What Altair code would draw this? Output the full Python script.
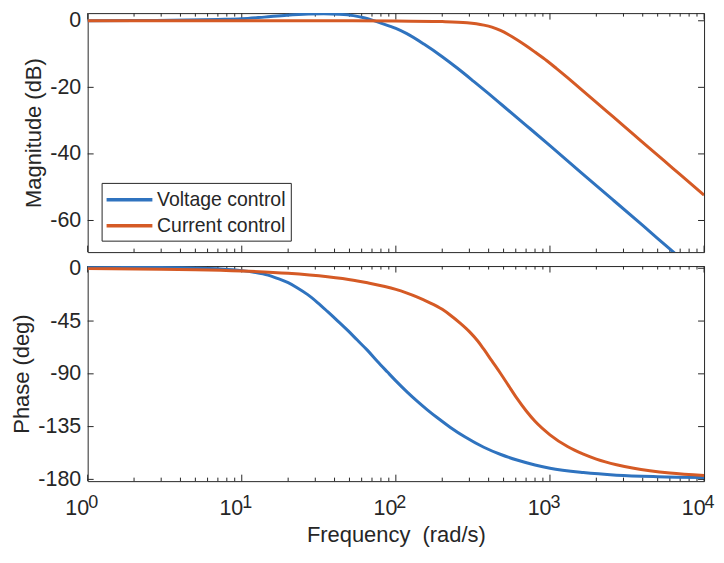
import altair as alt
import pandas as pd

series = ["Voltage control", "Current control"]
colors = ["#2F73BF", "#D55A25"]

# Magnitude (dB)
freq_v_mag = [1, 2, 4.4, 7, 10, 14, 19.6, 27, 34, 43, 53, 62, 71, 80, 100, 117, 152, 200, 250,
              320, 400, 489, 700, 1000, 1600, 2577, 4000, 6150, 10000]
mag_v = [0.0, 0.05, 0.2, 0.4, 0.6, 1.1, 1.65, 2.0, 2.1, 1.95, 1.55, 0.9, 0.1, -0.7, -2.3, -3.8,
         -7.0, -10.8, -14.2, -18.2, -21.9, -25.3, -31.4, -37.5, -45.7, -53.9, -61.5, -69.0, -77.4]

freq_c_mag = [1, 10, 50, 100, 200, 290, 372, 420, 477, 540, 611, 700, 800, 955, 1100, 1300,
              1567, 2000, 2577, 3500, 4230, 5500, 6950, 10000]
mag_c = [0.0, 0.0, 0.0, -0.05, -0.25, -0.6, -1.3, -1.9, -2.9, -4.2, -5.7, -7.5, -9.4, -12.0,
         -14.3, -17.1, -20.3, -24.5, -28.9, -34.2, -37.5, -42.0, -46.1, -52.4]

# Phase (deg)
freq_v_ph = [1, 2, 4, 7, 10, 12, 14.8, 17, 20, 23, 26.8, 31, 36.1, 42, 48.7, 56, 65.5, 76, 88.2,
             100, 119, 138, 160, 186, 226, 280, 372, 480, 611, 800, 1000, 1648, 2704, 5000, 10000]
ph_v = [0.5, 0.7, 0.5, -0.5, -2.0, -3.4, -5.8, -8.6, -12.3, -16.8, -22.5, -29.2, -37.0, -45.0,
        -53.0, -61.0, -70.0, -79.5, -88.5, -96.0, -105.8, -113.5, -120.7, -127.5, -135.7, -143.7,
        -152.6, -158.8, -163.5, -167.7, -170.5, -174.2, -176.4, -177.7, -178.4]

freq_c_ph = [1, 3, 5, 10, 20, 36, 53, 65.5, 100, 117, 138, 160, 200, 226, 260, 300, 340, 372,
             420, 477, 540, 611, 700, 800, 1000, 1300, 1648, 2000, 2704, 3500, 4446, 6000, 10000]
ph_c = [-0.3, -0.8, -1.2, -2.3, -4.3, -7.3, -10.2, -12.4, -18.0, -21.0, -24.6, -28.4, -35.0,
        -40.0, -46.5, -54.0, -62.0, -69.0, -79.0, -89.5, -100.3, -111.0, -121.5, -130.5, -142.0,
        -152.0, -158.5, -162.7, -167.5, -170.5, -172.6, -174.6, -176.6]

x_major = [1, 10, 100, 1000, 10000]
x_exp = ["0", "1", "2", "3", "4"]
x_minor = [m * d for d in [1, 10, 100, 1000] for m in range(2, 10)]
mag_ticks = [0, -20, -40, -60]
ph_ticks = [0, -45, -90, -135, -180]

W = 619
H_MAG = 240
H_PH = 216
INK = "#262626"
FONT = "Liberation Sans"

xscale = alt.Scale(type="log", domain=[1, 10000], nice=False)
mag_scale = alt.Scale(domain=[-69.5, 2.3], nice=False, zero=False)
ph_scale = alt.Scale(domain=[-181.5, 1.9], nice=False, zero=False)
color_scale = alt.Scale(domain=series, range=colors)

mag_df = pd.concat([
    pd.DataFrame({"f": freq_v_mag, "v": mag_v, "s": series[0]}),
    pd.DataFrame({"f": freq_c_mag, "v": mag_c, "s": series[1]}),
])
ph_df = pd.concat([
    pd.DataFrame({"f": freq_v_ph, "v": ph_v, "s": series[0]}),
    pd.DataFrame({"f": freq_c_ph, "v": ph_c, "s": series[1]}),
])


def curves(df, yscale, yaxis, xaxis, legend):
    out = []
    for s in series:
        out.append(
            alt.Chart(df).transform_filter(alt.datum.s == s)
            .mark_line(strokeWidth=3, clip=True, interpolate="monotone")
            .encode(
                x=alt.X("f:Q", scale=xscale, axis=xaxis),
                y=alt.Y("v:Q", scale=yscale, axis=yaxis),
                color=alt.Color("s:N", scale=color_scale, legend=legend),
            )
        )
    return out


def ticks(H, yscale, yvals, yaxis, xaxis):
    maj = pd.DataFrame({"t": x_major})
    mnr = pd.DataFrame({"t": x_minor})
    yv = pd.DataFrame({"t": yvals})
    out = []
    for df, L in [(maj, 6.5), (mnr, 3.5)]:
        base = alt.Chart(df).mark_rule(color=INK, strokeWidth=1)
        out.append(base.encode(x=alt.X("t:Q", scale=xscale, axis=xaxis),
                               y=alt.value(0), y2=alt.value(L)))
        out.append(base.encode(x=alt.X("t:Q", scale=xscale, axis=xaxis),
                               y=alt.value(H), y2=alt.value(H - L)))
    base = alt.Chart(yv).mark_rule(color=INK, strokeWidth=1)
    out.append(base.encode(y=alt.Y("t:Q", scale=yscale, axis=yaxis),
                           x=alt.value(0), x2=alt.value(6)))
    out.append(base.encode(y=alt.Y("t:Q", scale=yscale, axis=yaxis),
                           x=alt.value(W - 6), x2=alt.value(W)))
    return out


legend = alt.Legend(
    title=None, orient="none", legendX=14, legendY=170.5, direction="vertical",
    symbolType="M-2.3,0H2.3", symbolSize=400, symbolStrokeWidth=3.5,
    symbolOffset=11, labelOffset=15.7, labelFont=FONT, labelFontSize=19.5,
    labelColor=INK, padding=5, rowPadding=4, fillColor="white", strokeColor=INK,
)

mag_axis = alt.Axis(values=mag_ticks, title="Magnitude (dB)", titlePadding=4,
                    labelExpr="toString(datum.value)")
ph_axis = alt.Axis(values=ph_ticks, title="Phase (deg)", titlePadding=4,
                   labelExpr="toString(datum.value)")
x_axis = alt.Axis(title="Frequency \u00a0(rad/s)", labels=False, ticks=False, domain=False,
                  titlePadding=44)

top = alt.layer(
    *ticks(H_MAG, mag_scale, mag_ticks, mag_axis, None),
    *curves(mag_df, mag_scale, mag_axis, None, legend),
).properties(width=W, height=H_MAG)

xt = pd.DataFrame({"v": x_major, "e": x_exp})
lab_base = alt.Chart(xt).mark_text(text="10", align="right", dx=1.5, baseline="alphabetic",
                                   font=FONT, fontSize=21.5, color=INK).encode(
    x=alt.X("v:Q", scale=xscale, axis=x_axis), y=alt.value(H_PH + 34))
lab_exp = alt.Chart(xt).mark_text(align="left", dx=0.5, baseline="alphabetic",
                                  font=FONT, fontSize=18, color=INK).encode(
    x=alt.X("v:Q", scale=xscale, axis=x_axis), y=alt.value(H_PH + 27), text="e:N")

bottom = alt.layer(
    *ticks(H_PH, ph_scale, ph_ticks, ph_axis, x_axis),
    *curves(ph_df, ph_scale, ph_axis, x_axis, None),
    lab_base, lab_exp,
).properties(width=W, height=H_PH)

chart = (
    alt.vconcat(top, bottom, spacing=14, bounds="flush")
    .resolve_scale(y="independent", color="independent")
    .resolve_legend(color="independent")
    .properties(padding={"left": 2, "top": 0, "right": 0, "bottom": 0})
    .configure_view(stroke=INK, strokeWidth=1)
    .configure_axis(
        labelFont=FONT, labelFontSize=21.5, labelColor=INK, labelPadding=7,
        labelFlush=False, tickSize=0, ticks=False, domain=False, grid=False,
        titleFont=FONT, titleFontSize=22, titleFontWeight="normal", titleColor=INK,
    )
)

chart.save("out.html", embed_options={"renderer": "svg", "actions": False})
